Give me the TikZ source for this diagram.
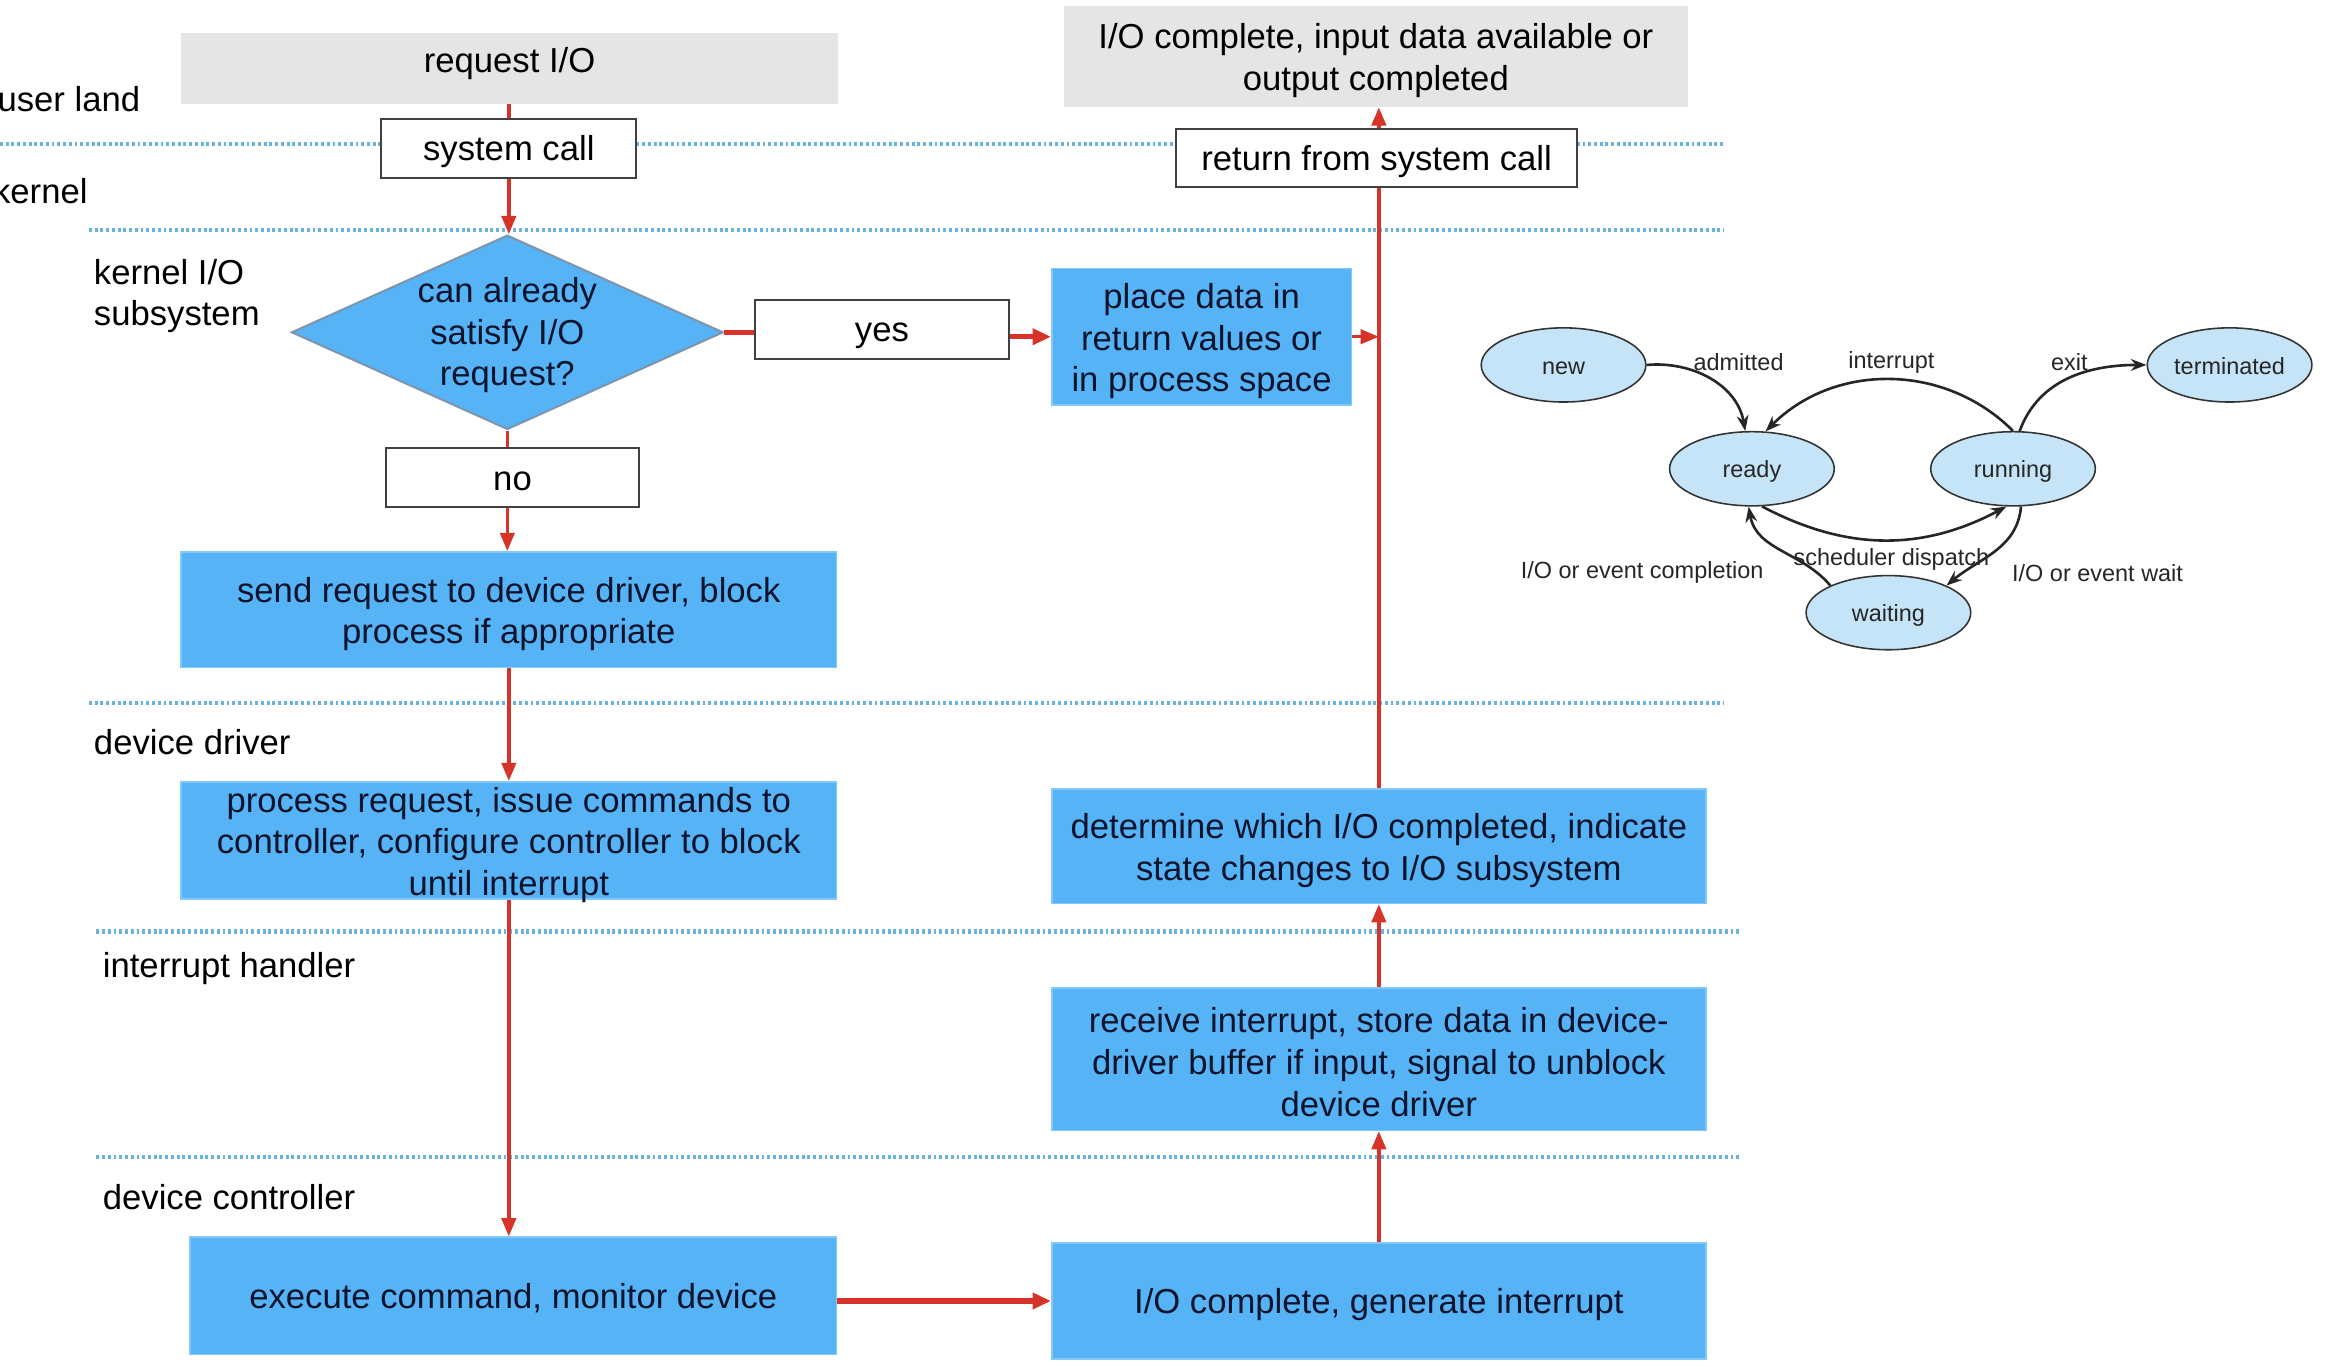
\documentclass[tikz,border=0pt]{standalone}
\usepackage{fontspec}
\setmainfont{Liberation Sans}
\usetikzlibrary{shapes.geometric,arrows.meta}
\definecolor{boxblue}{RGB}{86,180,246}
\definecolor{boxedge}{RGB}{130,200,248}
\definecolor{navy}{RGB}{12,20,45}
\definecolor{boxgray}{RGB}{229,229,229}
\definecolor{sepblue}{RGB}{105,180,222}
\definecolor{flowred}{RGB}{214,52,40}
\definecolor{stateblue}{RGB}{198,228,247}
\definecolor{diaedge}{RGB}{125,150,175}
\tikzset{
  sz/.style 2 args={minimum width=#1*0.02cm, minimum height=#2*0.02cm},
  blk/.style={font=\fontsize{13.3}{16}\selectfont, align=center, inner sep=0pt},
  struts/.style={execute at begin node={\rule{0pt}{12.5pt}}, execute at end node={\rule[-2.9pt]{0pt}{0pt}}},
  bluebox/.style={blk, struts, fill=boxblue, draw=boxedge, line width=0.6pt, text=navy},
  whitebox/.style={blk, struts, fill=white, draw=black!75, line width=0.8pt},
  graybox/.style={blk, fill=boxgray},
  mtext/.style 2 args={label={[blk, text=navy, yshift=#1]center:{#2}}},
  lbl/.style={font=\fontsize{13.3}{16}\selectfont, align=left, anchor=west, inner sep=0pt},
  sepline/.style={sepblue, line width=1.7pt, dash pattern=on 1.1pt off 1.1pt},
  flowline/.style={flowred, line width=1.3pt},
  flow/.style={flowline, -{Triangle[length=7pt,width=5.5pt]}},
  thickflowline/.style={flowred, line width=2pt},
  thickflow/.style={thickflowline, -{Triangle[length=7pt,width=6pt]}},
  state/.style={ellipse, draw=black!80, line width=0.6pt, fill=stateblue, sz={111}{50}, inner sep=0pt, font=\fontsize{9}{11}\selectfont, text=black!85,
    execute at begin node={\rule{0pt}{9pt}}, execute at end node={\rule[-2pt]{0pt}{0pt}}},
  slabel/.style={font=\fontsize{9}{11}\selectfont, inner sep=0pt, text=black!85},
  sarrow/.style={black!85, line width=1pt, -{Stealth[length=6pt,width=4.5pt]}}
}
\begin{document}
\begin{tikzpicture}[x=0.02cm, y=-0.02cm]
\useasboundingbox (0,0) rectangle (1568,921);

% separators
\draw[sepline] (0,97) -- (1162,97);
\draw[sepline] (60,155) -- (1162,155);
\draw[sepline] (60,474) -- (1162,474);
\draw[sepline] (65,628) -- (1172,628);
\draw[sepline] (65,780) -- (1172,780);

% layer labels
\node[lbl] (Luser) at (-2,67) {user land};
\node[lbl] (Lkernel) at (-5,129) {kernel};
\node[lbl] (Lkio) at (63,199.5) {kernel I/O\\subsystem};
\node[lbl] (Ldd) at (63,500) {device driver};
\node[lbl] (Lih) at (69,653) {interrupt handler};
\node[lbl] (Ldc) at (69,807) {device controller};

% left column
\node[graybox, sz={443}{48}, text depth=6.3pt] (req) at (343.5,46) {request I/O};
\node[whitebox, sz={172}{40}] (sys) at (343,100) {system call};
\node[diamond, fill=boxblue, draw=diaedge, line width=0.8pt, sz={291}{131}, inner sep=0pt] (dia) at (342,224) {};
\node[blk, text=navy, yshift=-1.1pt] (diatext) at (dia.center) {can already\\satisfy I/O\\request?};
\node[whitebox, sz={171}{40}] (yes) at (594.5,222) {yes};
\node[whitebox, sz={171}{40}] (no) at (345.5,322) {no};
\node[bluebox, sz={442}{78}, mtext={-1.7pt}{send request to device driver, block\\process if appropriate}] (send) at (343,411) {};
\node[bluebox, sz={442}{79}, mtext={-1.7pt}{process request, issue commands to\\controller, configure controller to block\\until interrupt}] (proc) at (343,566.5) {};
\node[bluebox, sz={436}{79}] (exec) at (346,873.5) {execute command, monitor device};

% right column
\node[bluebox, sz={202}{92}, mtext={-1.7pt}{place data in\\return values or\\in process space}] (place) at (810,227) {};
\node[graybox, sz={421}{68}, label={[blk, yshift=-1.7pt]center:{I/O complete, input data available or\\output completed}}] (done) at (927.5,38) {};
\node[whitebox, sz={270}{39}] (ret) at (928,106.5) {return from system call};
\node[bluebox, sz={441}{77}, mtext={-1.7pt}{determine which I/O completed, indicate\\state changes to I/O subsystem}] (det) at (929.5,570.5) {};
\node[bluebox, sz={441}{96}, mtext={-1.1pt}{receive interrupt, store data in device-\\driver buffer if input, signal to unblock\\device driver}] (recv) at (929.5,714) {};
\node[bluebox, sz={441}{78}] (gen) at (929.5,877) {I/O complete, generate interrupt};

% flow connectors
\draw[flowline] (req.south -| sys.north) -- (sys.north);
\draw[flow] (sys.south) -- (sys.south |- dia.north);
\draw[thickflowline] (dia.east) -- (dia.east -| yes.west);
\draw[thickflow] (yes.east |- place.west) -- (place.west);
\draw[flowline] (dia.south) -- (dia.south |- no.north);
\draw[flow] (no.south -| dia.south) -- (dia.south |- send.north);
\draw[flow] (send.south) -- (send.south |- proc.north);
\draw[flow] (proc.south) -- (proc.south |- exec.north);
\draw[thickflow] (exec.east |- gen.west) -- (gen.west);
\draw[flow] (gen.north) -- (recv.south);
\draw[flow] (recv.north) -- (det.south);
\draw[flowline] (det.north) -- (det.north |- ret.south);
\draw[flow] (ret.north -| det.north) -- (det.north |- done.south);
\draw[flow] (place.east) -- (place.east -| det.north);

% process state diagram
\node[state] (new) at (1054,246) {new};
\node[state] (term) at (1503,246) {terminated};
\node[state] (ready) at (1181,316) {ready};
\node[state] (run) at (1357,316) {running};
\node[state] (wait) at (1273,413) {waiting};

\draw[sarrow] (new.east) to[out=5, in=100] (ready.100);
\draw[sarrow] (run.90) to[out=135, in=45] (ready.70);
\draw[sarrow] (run.80) to[out=70, in=180] (term.west);
\draw[sarrow] (ready.-75) to[out=-28, in=-152] (run.-100);
\draw[sarrow] (run.-78) to[out=-95, in=40] (wait.25);
\draw[sarrow] (wait.155) to[out=130, in=-80] (ready.-95);

\node[slabel] (ladm) at (1172,244) {admitted};
\node[slabel] (lint) at (1275,244) {interrupt};
\node[slabel] (lexit) at (1395,244) {exit};
\node[slabel] (lsched) at (1275,377) {scheduler dispatch};
\node[slabel] (lcomp) at (1107,386) {I/O or event completion};
\node[slabel] (lwait) at (1414,386) {I/O or event wait};
\end{tikzpicture}
\end{document}
